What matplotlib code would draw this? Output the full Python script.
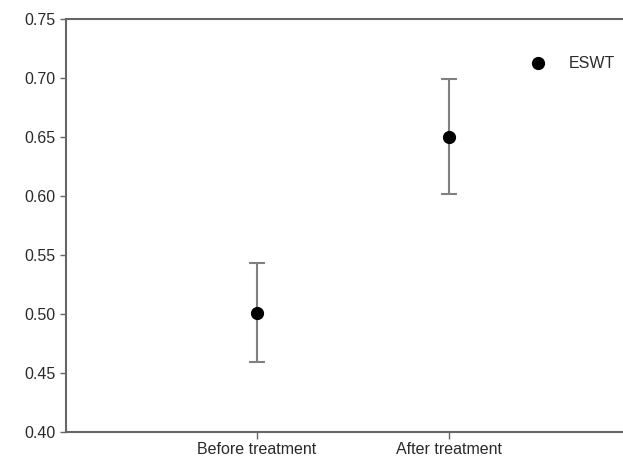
import matplotlib
matplotlib.use("Agg")
import matplotlib.pyplot as plt

plt.rcParams['font.family'] = ['Liberation Sans', 'DejaVu Sans']

# data
groups = ["Before treatment", "After treatment"]
means = [0.501, 0.650]
lower = [0.459, 0.602]
upper = [0.543, 0.699]
series_name = "ESWT"

x = [1, 2]
err = [[m - lo for m, lo in zip(means, lower)],
       [hi - m for m, hi in zip(means, upper)]]

fig = plt.figure(figsize=(6.23, 4.57), dpi=100)
ax = fig.add_axes([66 / 623, 1 - 432 / 457, 574 / 623, 413 / 457])

spine_col = "#666666"
text_col = "#2a2a2a"

ax.errorbar(x, means, yerr=err, fmt="none", ecolor="#808080",
            elinewidth=1.5, capsize=5.8, capthick=1.5, zorder=2)
ax.plot(x, means, "o", color="black", markersize=8.5, label=series_name,
        linestyle="none", zorder=3)

ax.set_xlim(0.01, 2.99)
ax.set_ylim(0.40, 0.75)
ax.set_yticks([0.40, 0.45, 0.50, 0.55, 0.60, 0.65, 0.70, 0.75])
ax.set_yticklabels([f"{v:.2f}" for v in ax.get_yticks()])
ax.set_xticks(x)
ax.set_xticklabels(groups)

for s in ax.spines.values():
    s.set_color(spine_col)
    s.set_linewidth(1.5)

ax.tick_params(axis="y", direction="out", length=4, width=1, color=spine_col,
               labelsize=11.5, labelcolor=text_col, pad=3.5)
ax.tick_params(axis="x", direction="out", length=5, width=1, color=spine_col,
               labelsize=11.5, labelcolor=text_col, pad=2)

leg = ax.legend(loc="center left", bbox_to_anchor=(524 / 623, 1 - 64 / 457),
                bbox_transform=fig.transFigure, frameon=False, fontsize=11.5,
                handletextpad=1.5, handlelength=0.8, borderpad=0)
for t in leg.get_texts():
    t.set_color(text_col)

fig.savefig("out.png", dpi=100)
